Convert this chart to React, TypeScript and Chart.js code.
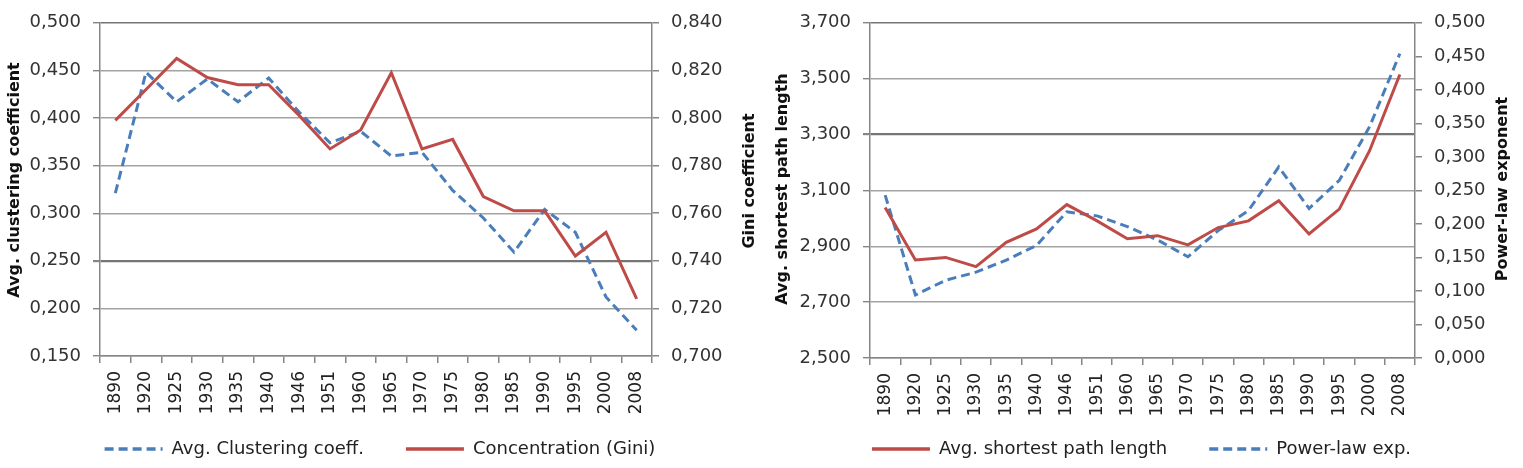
import React, { useEffect, useRef } from 'react';
import { Chart, registerables } from 'chart.js';

Chart.register(...registerables);

// ---------- data ----------
const years = ['1890', '1920', '1925', '1930', '1935', '1940', '1946', '1951', '1960', '1965', '1970', '1975', '1980', '1985', '1990', '1995', '2000', '2008'];

const clusteringCoeff = [0.321, 0.448, 0.417, 0.441, 0.417, 0.442, 0.406, 0.374, 0.386, 0.360, 0.364, 0.324, 0.295, 0.259, 0.304, 0.280, 0.212, 0.177];
const giniConcentration = [0.799, 0.812, 0.825, 0.817, 0.814, 0.814, 0.801, 0.787, 0.795, 0.819, 0.787, 0.791, 0.767, 0.761, 0.761, 0.742, 0.752, 0.724];

const shortestPath = [3.039, 2.851, 2.860, 2.827, 2.914, 2.962, 3.049, 2.991, 2.927, 2.938, 2.905, 2.967, 2.991, 3.063, 2.944, 3.033, 3.242, 3.515];
const powerLawExp = [0.243, 0.094, 0.116, 0.128, 0.146, 0.168, 0.218, 0.212, 0.196, 0.176, 0.151, 0.190, 0.220, 0.285, 0.223, 0.265, 0.345, 0.454];

const clusteringTicks = [0.15, 0.2, 0.25, 0.3, 0.35, 0.4, 0.45, 0.5];
const giniTicks = [0.70, 0.72, 0.74, 0.76, 0.78, 0.80, 0.82, 0.84];
const pathTicks = [2.5, 2.7, 2.9, 3.1, 3.3, 3.5, 3.7];
const powerTicks = [0, 0.05, 0.1, 0.15, 0.2, 0.25, 0.3, 0.35, 0.4, 0.45, 0.5];

// ---------- styling ----------
const FONT = 'DejaVu Sans';
const BLUE = '#4A7EBB';
const RED = '#BE4B48';
const AXIS = '#868686';
const GRID = '#a3a3a3';
const GRID_DARK = '#757575';

const fmt = (v: number) => v.toFixed(3).replace('.', ',');

type TitleSpec = { text: string; x: number; y: number };

const axisTitlePlugin = (titles: TitleSpec[]) => ({
  id: 'axisTitles',
  afterDraw(chart: any) {
    const { ctx } = chart;
    ctx.save();
    ctx.font = `bold 16px "${FONT}"`;
    ctx.fillStyle = '#111';
    ctx.textAlign = 'center';
    ctx.textBaseline = 'middle';
    for (const t of titles) {
      ctx.save();
      ctx.translate(t.x, t.y);
      ctx.rotate(-Math.PI / 2);
      ctx.fillText(t.text, 0, 0);
      ctx.restore();
    }
    ctx.restore();
  },
});

function makeConfig(opts: {
  datasets: any[];
  leftTicks: number[];
  rightTicks: number[];
  leftWidth: number;
  rightWidth: number;
  xHeight: number;
  top: number;
  darkValue: number;
  titles: TitleSpec[];
}) {
  const near = (a: number, b: number) => Math.abs(a - b) < 1e-6;
  const lmin = opts.leftTicks[0];
  const lmax = opts.leftTicks[opts.leftTicks.length - 1];
  const rmin = opts.rightTicks[0];
  const rmax = opts.rightTicks[opts.rightTicks.length - 1];
  return {
    type: 'line',
    data: { labels: years, datasets: opts.datasets },
    plugins: [axisTitlePlugin(opts.titles)],
    options: {
      animation: false,
      responsive: false,
      maintainAspectRatio: false,
      layout: { padding: { top: opts.top, left: 0, right: 0, bottom: 0 } },
      elements: { point: { radius: 0 }, line: { tension: 0 } },
      plugins: {
        tooltip: { enabled: false },
        legend: {
          position: 'bottom',
          align: 'center',
          labels: {
            usePointStyle: true,
            pointStyle: 'line',
            pointStyleWidth: 58,
            padding: 42,
            color: '#222',
            font: { family: FONT, size: 18 },
            sort: (a: any, b: any) => a.datasetIndex - b.datasetIndex,
            generateLabels: (chart: any) => {
              const items = Chart.defaults.plugins.legend.labels.generateLabels(chart);
              return items.map((it: any) => {
                const ds = chart.data.datasets[it.datasetIndex];
                return {
                  ...it,
                  lineDash: ds.borderDash || [],
                  strokeStyle: ds.borderColor,
                  fillStyle: ds.borderColor,
                  lineWidth: 3.5,
                  pointStyle: 'line',
                };
              });
            },
          },
        },
      },
      scales: {
        x: {
          type: 'category',
          offset: true,
          grid: { offset: true, drawOnChartArea: false, drawTicks: true, tickLength: 7, color: AXIS, lineWidth: 1.5 },
          border: { display: true, color: AXIS, width: 1.5 },
          ticks: { autoSkip: false, minRotation: 90, maxRotation: 90, padding: 8, color: '#222', font: { family: FONT, size: 17 } },
          afterFit: (s: any) => {
            s.height = opts.xHeight;
            // let the rotated labels run past the (short) axis box without clipping
            s._computeLabelArea = () => undefined;
          },
        },
        yL: {
          type: 'linear',
          position: 'left',
          min: lmin,
          max: lmax,
          afterBuildTicks: (s: any) => { s.ticks = opts.leftTicks.map((v) => ({ value: v })); },
          afterFit: (s: any) => { s.width = opts.leftWidth; },
          grid: {
            drawTicks: true,
            tickLength: 7,
            color: (c: any) => (c.tick && (near(c.tick.value, opts.darkValue) || near(c.tick.value, lmax)) ? GRID_DARK : GRID),
            lineWidth: (c: any) => (c.tick && near(c.tick.value, opts.darkValue) ? 2.2 : 1.4),
            tickColor: AXIS,
          },
          border: { display: true, color: AXIS, width: 1.5 },
          ticks: { padding: 12, color: '#333', font: { family: FONT, size: 18 }, callback: (v: any) => fmt(Number(v)) },
        },
        yR: {
          type: 'linear',
          position: 'right',
          min: rmin,
          max: rmax,
          afterBuildTicks: (s: any) => { s.ticks = opts.rightTicks.map((v) => ({ value: v })); },
          afterFit: (s: any) => { s.width = opts.rightWidth; },
          grid: { drawOnChartArea: false, drawTicks: true, tickLength: 7, color: AXIS, lineWidth: 1.5 },
          border: { display: true, color: AXIS, width: 1.5 },
          ticks: { padding: 12, color: '#333', font: { family: FONT, size: 18 }, callback: (v: any) => fmt(Number(v)) },
        },
      },
    },
  } as any;
}

function ChartCanvas({ width, height, config }: { width: number; height: number; config: () => any }) {
  const ref = useRef<HTMLCanvasElement | null>(null);
  useEffect(() => {
    if (!ref.current) return;
    const chart = new Chart(ref.current, config());
    return () => chart.destroy();
  }, []);
  return <canvas ref={ref} width={width} height={height} style={{ display: 'block', width, height }} />;
}

export default function App() {
  useEffect(() => {
    document.body.style.margin = '0';
    document.body.style.background = '#fff';
  }, []);

  const leftConfig = () =>
    makeConfig({
      datasets: [
        {
          label: 'Avg. Clustering coeff.',
          data: clusteringCoeff,
          yAxisID: 'yL',
          borderColor: BLUE,
          backgroundColor: BLUE,
          borderWidth: 3,
          borderDash: [9, 5],
          order: 1,
        },
        {
          label: 'Concentration (Gini)',
          data: giniConcentration,
          yAxisID: 'yR',
          borderColor: RED,
          backgroundColor: RED,
          borderWidth: 3,
          order: 0,
        },
      ],
      leftTicks: clusteringTicks,
      rightTicks: giniTicks,
      leftWidth: 100,
      rightWidth: 108,
      xHeight: 42,
      top: 16,
      darkValue: 0.25,
      titles: [
        { text: 'Avg. clustering coefficient', x: 15, y: 180 },
        { text: 'Gini coefficient', x: 750, y: 181 },
      ],
    });

  const rightConfig = () =>
    makeConfig({
      datasets: [
        {
          label: 'Avg. shortest path length',
          data: shortestPath,
          yAxisID: 'yL',
          borderColor: RED,
          backgroundColor: RED,
          borderWidth: 3,
          order: 0,
        },
        {
          label: 'Power-law exp.',
          data: powerLawExp,
          yAxisID: 'yR',
          borderColor: BLUE,
          backgroundColor: BLUE,
          borderWidth: 3,
          borderDash: [9, 5],
          order: 1,
        },
      ],
      leftTicks: pathTicks,
      rightTicks: powerTicks,
      leftWidth: 110,
      rightWidth: 108,
      xHeight: 40,
      top: 22,
      darkValue: 3.3,
      titles: [
        { text: 'Avg. shortest path length', x: 23, y: 189 },
        { text: 'Power-law exponent', x: 743, y: 189 },
      ],
    });

  return (
    <div style={{ position: 'absolute', left: 0, top: 0, width: 1523, height: 468, background: '#fff', display: 'flex' }}>
      <ChartCanvas width={760} height={468} config={leftConfig} />
      <ChartCanvas width={763} height={468} config={rightConfig} />
    </div>
  );
}
